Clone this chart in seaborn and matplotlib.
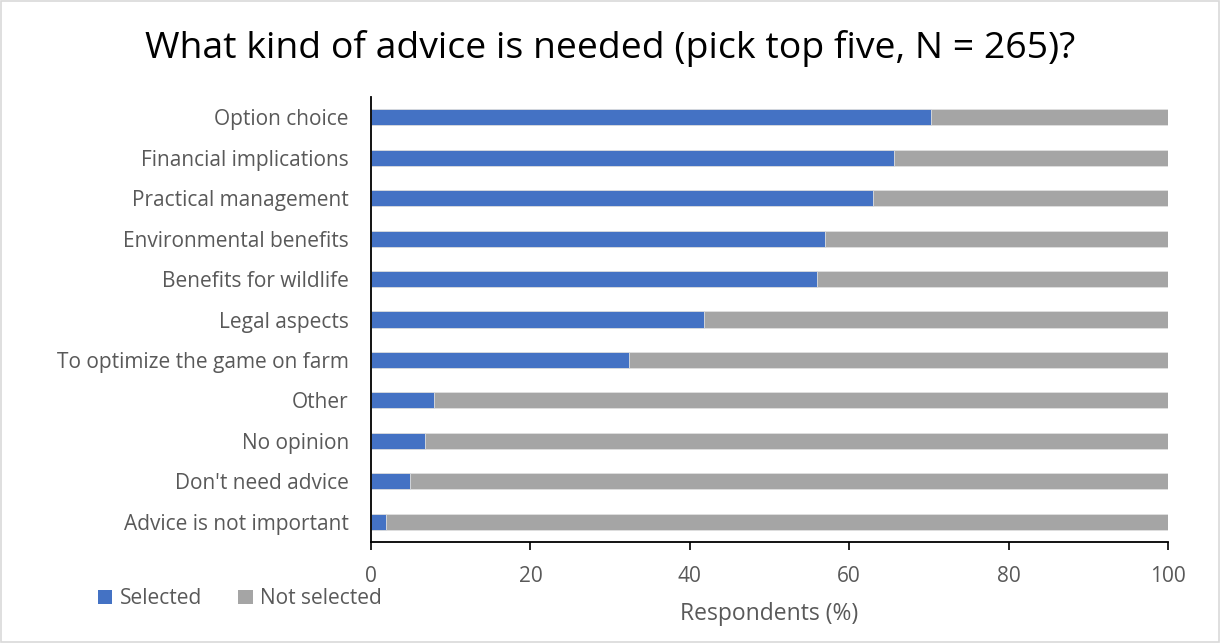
import matplotlib
matplotlib.use("Agg")
import matplotlib.pyplot as plt
from matplotlib.patches import Patch, Rectangle
import seaborn as sns
import pandas as pd

categories = [
    "Option choice",
    "Financial implications",
    "Practical management",
    "Environmental benefits",
    "Benefits for wildlife",
    "Legal aspects",
    "To optimize the game on farm",
    "Other",
    "No opinion",
    "Don't need advice",
    "Advice is not important",
]
selected = [70.2, 65.6, 63.0, 57.0, 55.9, 41.8, 32.4, 7.9, 6.8, 4.9, 1.9]
not_selected = [round(100 - s, 1) for s in selected]
x_ticks = [0, 20, 40, 60, 80, 100]

BLUE = "#4472C4"
GREY = "#A5A5A5"
TEXT = "#595959"

sns.set_theme(style="white")
plt.rcParams["font.family"] = ["Open Sans", "DejaVu Sans"]

df = pd.DataFrame({
    "category": categories,
    "Selected": selected,
    "Not selected": not_selected,
})
df["total"] = df["Selected"] + df["Not selected"]

fig = plt.figure(figsize=(12.2, 6.43), dpi=100)
ax = fig.add_axes([0.3041, 0.1571, 0.6533, 0.692])

# stacked horizontal bars: full stack in grey, selected share in blue on top
sns.barplot(data=df, y="category", x="total", color=GREY, width=0.4,
            saturation=1, edgecolor="#E0E0E0", linewidth=0.6, ax=ax, orient="h")
sns.barplot(data=df, y="category", x="Selected", color=BLUE, width=0.4,
            saturation=1, edgecolor="#E0E0E0", linewidth=0.6, ax=ax, orient="h")

ax.set_xlim(0, 100)
ax.set_ylim(len(categories) - 0.5, -0.5)
ax.set_xticks(x_ticks)
ax.set_xticklabels([str(t) for t in x_ticks])
ax.set_xlabel("Respondents (%)", fontsize=16.5, color=TEXT, labelpad=11)
ax.set_ylabel("")
ax.tick_params(axis="x", direction="out", length=6, width=1.2, color="black",
               labelsize=15, labelcolor=TEXT, pad=11, bottom=True)
ax.tick_params(axis="y", length=0, labelsize=15, labelcolor=TEXT, pad=16)

for side in ("top", "right"):
    ax.spines[side].set_visible(False)
for side in ("left", "bottom"):
    ax.spines[side].set_color("black")
    ax.spines[side].set_linewidth(1.3)

fig.text(0.5, 0.924, "What kind of advice is needed (pick top five, N = 265)?",
         ha="center", va="center", fontsize=26.9, color="black")

handles = [Patch(facecolor=BLUE, edgecolor="none", label="Selected"),
           Patch(facecolor=GREY, edgecolor="none", label="Not selected")]
fig.legend(handles=handles, loc="center left", bbox_to_anchor=(0.0805, 0.069),
           ncol=2, frameon=False, fontsize=15, labelcolor=TEXT,
           handlelength=0.68, handleheight=0.68, handletextpad=0.35,
           columnspacing=1.75, borderaxespad=0, borderpad=0)

fig.patches.append(Rectangle((0.001, 0.001), 0.998, 0.997, transform=fig.transFigure,
                             fill=False, edgecolor="#D9D9D9", linewidth=1.2))

fig.savefig("out.png", dpi=100)
